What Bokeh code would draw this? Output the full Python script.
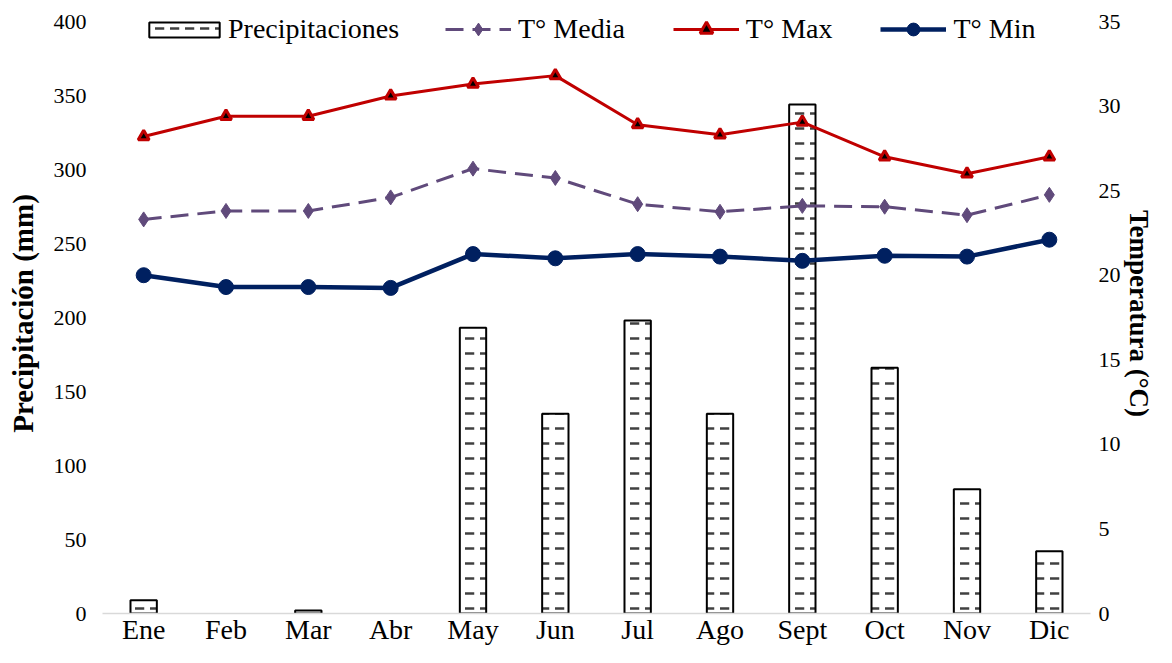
from bokeh.plotting import figure
from bokeh.models import ColumnDataSource, Range1d, LinearAxis, FixedTicker, Legend, LegendItem, FactorRange
from bokeh.embed import file_html
from bokeh.resources import INLINE

months = ["Ene", "Feb", "Mar", "Abr", "May", "Jun", "Jul", "Ago", "Sept", "Oct", "Nov", "Dic"]
precip = [9, 0, 2, 0, 193, 135, 198, 135, 344, 166, 84, 42]
t_media = [23.3, 23.8, 23.8, 24.6, 26.3, 25.75, 24.2, 23.75, 24.1, 24.05, 23.55, 24.75]
t_max = [28.2, 29.4, 29.4, 30.6, 31.3, 31.8, 28.9, 28.3, 29.05, 27.0, 26.0, 27.0]
t_min = [20.0, 19.3, 19.3, 19.25, 21.25, 21.0, 21.25, 21.1, 20.85, 21.15, 21.1, 22.1]

left_ticks = [0, 50, 100, 150, 200, 250, 300, 350, 400]
right_ticks = [0, 5, 10, 15, 20, 25, 30, 35]

FONT = "Liberation Serif"

# frame extends a little above the top tick (room for the legend)
FH = 600
TOP_PAD = 8
left_top = 400 * FH / (FH - TOP_PAD)
right_top = 35 * FH / (FH - TOP_PAD)

src = ColumnDataSource(dict(
    m=months, p=precip, tmed=t_media, tmax=t_max, tmin=t_min,
    la=[1 if v > 0 else 0 for v in precip],
))

p = figure(x_range=FactorRange(*months, range_padding=0), y_range=Range1d(0, left_top),
           width=1156, height=647, output_backend="svg", toolbar_location=None,
           min_border_left=102, min_border_right=66, min_border_top=13, min_border_bottom=10)
p.outline_line_color = None
p.xgrid.grid_line_color = None
p.ygrid.grid_line_color = None

p.extra_y_ranges = {"temp": Range1d(0, right_top)}

bars = p.vbar(x="m", top="p", width=0.32, source=src, fill_color="white",
              line_color="black", line_width=2, line_alpha="la",
              hatch_pattern="horizontal_dash", hatch_color="#404040",
              hatch_weight=2.5, hatch_scale=15)

med_l = p.line("m", "tmed", source=src, y_range_name="temp", color="#604A7B",
               line_width=3, line_dash="18 9")
med_s = p.scatter("m", "tmed", source=src, y_range_name="temp", marker="diamond",
                  size=15, fill_color="#604A7B", line_color="#604A7B")
max_l = p.line("m", "tmax", source=src, y_range_name="temp", color="#C00000", line_width=3)
max_s = p.scatter("m", "tmax", source=src, y_range_name="temp", marker="triangle",
                  size=11, fill_color="black", line_color="#C00000", line_width=3)
min_l = p.line("m", "tmin", source=src, y_range_name="temp", color="#002060", line_width=4.5)
min_s = p.scatter("m", "tmin", source=src, y_range_name="temp", marker="circle",
                  size=15, fill_color="#002060", line_color="#002060")

# x axis
xa = p.xaxis[0]
xa.axis_line_color = "#d9d9d9"
xa.axis_line_width = 1.5
xa.major_tick_line_color = None
xa.minor_tick_line_color = None
xa.major_tick_out = 0
xa.major_tick_in = 0
xa.major_label_text_font = FONT
xa.major_label_text_font_size = "28px"
xa.major_label_text_color = "black"
xa.major_label_standoff = 0

# left axis
ya = p.yaxis[0]
ya.ticker = FixedTicker(ticks=left_ticks)
ya.axis_line_color = None
ya.major_tick_line_color = None
ya.minor_tick_line_color = None
ya.major_tick_out = 0
ya.major_tick_in = 0
ya.major_label_text_font = FONT
ya.major_label_text_font_size = "22px"
ya.major_label_text_color = "black"
ya.major_label_standoff = 16
ya.axis_label = "Precipitación (mm)"
ya.axis_label_text_font = FONT
ya.axis_label_text_font_style = "bold"
ya.axis_label_text_font_size = "29px"
ya.axis_label_text_color = "black"
ya.axis_label_standoff = 12

ra = LinearAxis(y_range_name="temp", ticker=FixedTicker(ticks=right_ticks))
ra.axis_line_color = None
ra.major_tick_line_color = None
ra.minor_tick_line_color = None
ra.major_tick_out = 0
ra.major_tick_in = 0
ra.major_label_text_font = FONT
ra.major_label_text_font_size = "22px"
ra.major_label_text_color = "black"
ra.major_label_standoff = 8
ra.axis_label = "Temperatura (°C)"
ra.axis_label_text_font = FONT
ra.axis_label_text_font_style = "bold"
ra.axis_label_text_font_size = "27px"
ra.axis_label_text_color = "black"
ra.axis_label_standoff = 0
p.add_layout(ra, "right")

LH = 32  # legend row height

leg1 = Legend(items=[LegendItem(label="Precipitaciones", renderers=[bars])],
              location=(38, FH - LH), orientation="horizontal")
leg1.glyph_width = 88
leg1.glyph_height = 19
leg1.label_standoff = 0

leg2 = Legend(items=[
    LegendItem(label="T° Media", renderers=[med_l, med_s]),
    LegendItem(label="T° Max", renderers=[max_l, max_s]),
    LegendItem(label="T° Min", renderers=[min_l, min_s]),
], location=(343, FH - LH), orientation="horizontal")
leg2.glyph_width = 66
leg2.glyph_height = 32
leg2.label_standoff = 7

for lg in (leg1, leg2):
    lg.label_text_font = FONT
    lg.label_text_font_size = "28px"
    lg.label_text_color = "black"
    lg.spacing = 48
    lg.padding = 0
    lg.margin = 0
    lg.border_line_color = None
    lg.background_fill_alpha = 0
    p.add_layout(lg, "center")

open("out.html", "w").write(file_html(p, INLINE))
